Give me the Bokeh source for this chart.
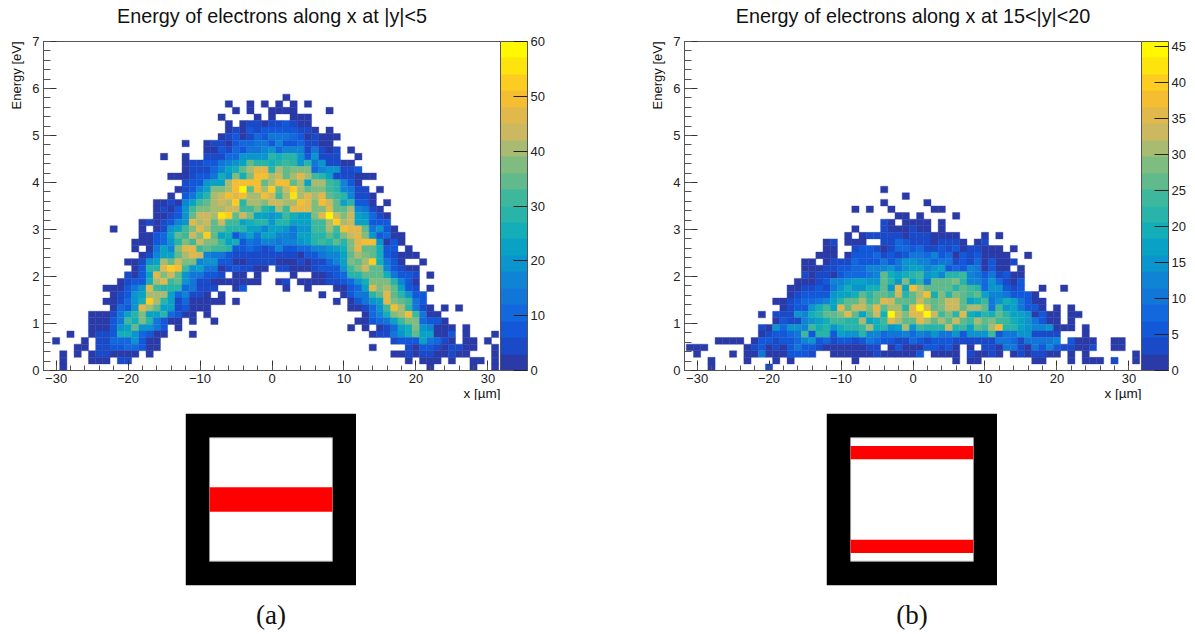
from bokeh.plotting import figure
from bokeh.layouts import column, row
from bokeh.models import (ColumnDataSource, LinearColorMapper, ColorBar, FixedTicker,
                          SingleIntervalTicker, Range1d, Title)
from bokeh.embed import file_html
from bokeh.resources import INLINE

# ---- chart data: bin contents as colour levels, one base-21 character per x bin.
# Rows run from the highest energy bin down to bin 0.
# LEFT strings end at x = 0 ; RIGHT strings start at x = 1 ; '.' is an empty bin.
left_a = [
"","1..1.1.","1.1..1","1....1.1","1.12212","1213233","12312435","1..1221344553","1132435567",
"1..1..222447777a","122335678caa9","12224689cegga","111233597d9dhhe","233788ehhhhce",
"12368ddehkchei","1.358aefhgheehf","112168bcefeiaeedf","12137bddeeffbbda9","11237cffejicfd887",
"1212367gefcfbb89aa7","1...1.1278bdgeccaaa8868","11348cbfdic89368588","111347adbfddb8935466",
"1.1586dggbcbba334323","12688cegf6553222222","11278ecfdd67733112222","13aagihb78551232211.",
"2138gdfc755332.11.1..","12339egbc75221111111..","111357gbaaa45222..13....","12378eee846221.1.......",
"112479iea82411111.1.....","1437gec8823111.........","111258ad88a4311.1.........",
"11135b9da5311.1..1........","111378c7753.1.............","1..12239974311...1...........",
"1...1.224447311................","11.223344311................","1.1.1221111.1.................",
"1...111.22....................","1.............................",
]
right_a = [
".1","1.1.1","111....1","..111","23211","333221.1","554312111","63342211","466625212.1",
"9aa737222..1","aba7a572211","ecddd4677223","fcegeba8222111","hhce8eeba631","cfiecddba6522.1",
"bejegegcba6221","feehgdhfc8a331.1","ebgggddgcce6521","8b988dgkfdf87421","aa888bbeief88333",
"87577bbebhggc5731","66588aacadfgd73411","56678abacadghh7131","6334466789dgcc933.1",
"2221335668cedc932111","1112122468dcei9531..1","2211123337bdfcc63211","..1..11234aaccc95332.1",
"12.1111223479ddda631",".1..1...11348gdec832.1","......1..1355acgca733","........1.13578gdcb53",
"..........11247bhea521.1.1","............1469dehb511","...........113458bdd4331",
"..........1.1.12489d76111.1",".............122579c88113.1...1","................233385421.11.1",
".............1....2133212211..1","................11212211211...1",
"..................1.111.1..11.1",".....................1.....1..1",
]
left_b = [
"1....","1.","1....","1.1..1...","11.","21.11","1...21112","1.12222212","12.111..22432",
"11..233212443","111.1333423235","11.1222433353577","1112233446667578","21221344456c989a",
"111236678877ca7d8","1122325797799c7g8h","1233337889caccbfac","112344568accebcgfccc",
"123379b8gcffdgceeag","1.222769accdgc8cf9kfdg","13226789bbaae89bgecc","2174776b9a79aabe9a78e7",
"123345b3aa3877a6645564","1111.13323346734233235433224","111.....1231213533211111122.1311",
"1....1.1151113332..111111211111","1....1...1.1........1........","1.......2....................",
]
right_b = [
"","",".1","..11","1....1","11.1","11.1","221111...1.1","2212221.12","422323122111.1",
"5463413231111..1","66455232413112","8678343651311.1","b786aab65352311","a5cccda66474213",
"eccccacba477323..1..1","eh9dadcbc86653331","fdcdffc89b57985311","kfcdffceec5b785331.1.1",
"gkfbdag98a9ca8871311.11","gececfcbecdbb9875311.1","baaafab8cbehaa87667111.1",
"6575573777b355772222...1","32333222222554255556.3111..11","133231.1.2215521536322112..11",
"3.1111.21121.1212211.1.1......1",".....1.11.......11...1.111.2..1","",
]
levels = 20
zmax_a, zmax_b = 60.0, 45.7
cbar_ticks_a = [0, 10, 20, 30, 40, 50, 60]
cbar_ticks_b = [0, 5, 10, 15, 20, 25, 30, 35, 40, 45]
palette = ["#2a3ba8", "#1a4ac8", "#1258d8", "#1268dc", "#1276d8", "#0f84d4", "#0c94cc", "#0aa2c4",
           "#14aeb8", "#28b4a8", "#3eb89c", "#60ba8c", "#7fbc80", "#a8bb70", "#ccb85e", "#e0b84c",
           "#f5be32", "#fdcc20", "#fde40c", "#fff800"]
x_limit = 31.75
e_max = 7
n_e_bins = 50
title_a = "Energy of electrons along x at |y|<5"
title_b = "Energy of electrons along x at 15<|y|<20"
x_label = "x [µm]"
y_label = "Energy [eV]"
mask_half, mask_outer = 25, 34.8
bands_a = [(-5, 5)]
bands_b = [(-21.6, -16.3), (16.3, 21.6)]

FONT = "Liberation Sans"
DIGITS = "0123456789abcdefghijk"


def cells(left, right, zmax):
    step = zmax / levels
    dE = e_max / n_e_bins
    d = dict(l=[], r=[], b=[], t=[], v=[])
    top_row = len(left) - 1

    def add(x, row_i, ch):
        if ch == ".":
            return
        d["l"].append(x - 0.5)
        d["r"].append(x + 0.5)
        d["b"].append(row_i * dE)
        d["t"].append((row_i + 1) * dE)
        d["v"].append((DIGITS.index(ch) - 0.5) * step)

    for i, (ls, rs) in enumerate(zip(left, right)):
        ri = top_row - i
        for j, ch in enumerate(ls):
            add(j - len(ls) + 1, ri, ch)
        for j, ch in enumerate(rs):
            add(j + 1, ri, ch)
    return ColumnDataSource(d)


def hist(title, left, right, zmax, ticks, right_border, margin):
    p = figure(frame_width=457, frame_height=329, x_range=Range1d(-x_limit, x_limit),
               y_range=Range1d(0, e_max), output_backend="svg", toolbar_location=None,
               min_border_left=35, min_border_right=right_border, min_border_top=33,
               min_border_bottom=30, margin=margin, background_fill_color="white")
    p.title.text = title
    p.title.align = "center"
    p.title.text_font = FONT
    p.title.text_font_size = "19.8px"
    p.title.text_font_style = "normal"
    p.title.text_color = "#111111"
    p.title.standoff = 29
    p.grid.visible = False
    p.outline_line_color = "#555555"
    p.outline_line_width = 1
    mapper = LinearColorMapper(palette=palette, low=0, high=zmax)
    spec = {"field": "v", "transform": mapper}
    p.quad(left="l", right="r", bottom="b", top="t", source=cells(left, right, zmax),
           fill_color=spec, line_color=spec, line_width=0.4)
    p.xaxis.ticker = SingleIntervalTicker(interval=10, num_minor_ticks=5)
    p.yaxis.ticker = SingleIntervalTicker(interval=1, num_minor_ticks=5)
    for ax, mj, mn in ((p.xaxis[0], 10, 5), (p.yaxis[0], 13, 7)):
        ax.major_label_text_font = FONT
        ax.major_label_text_font_size = "13px"
        ax.major_label_text_color = "#222222"
        ax.major_tick_in = mj
        ax.major_tick_out = 0
        ax.minor_tick_in = mn
        ax.minor_tick_out = 0
        ax.axis_line_color = "#555555"
        ax.major_tick_line_color = "#333333"
        ax.minor_tick_line_color = "#555555"
    p.xaxis[0].major_label_standoff = 3
    p.yaxis[0].major_label_standoff = 4
    p.add_layout(Title(text=x_label, align="right", text_font=FONT, text_font_size="13.5px",
                       text_font_style="normal", text_color="#111111", standoff=-3), "below")
    p.add_layout(Title(text=y_label, align="right", text_font=FONT, text_font_size="13px",
                       text_font_style="normal", text_color="#111111", standoff=12), "left")
    cb = ColorBar(color_mapper=mapper, ticker=FixedTicker(ticks=ticks), width=27, padding=0, margin=1,
                  major_tick_in=14, major_tick_out=0, minor_tick_in=0, minor_tick_out=0,
                  major_tick_line_color="#222222", major_label_text_font=FONT,
                  major_label_text_font_size="13px", major_label_text_color="#222222",
                  bar_line_color="#555555", label_standoff=3, scale_alpha=1.0)
    p.add_layout(cb, "right")
    return p


def mask(caption, bands, margin):
    p = figure(frame_width=171, frame_height=172, x_range=Range1d(-mask_outer, mask_outer),
               y_range=Range1d(-mask_outer, mask_outer), output_backend="svg", toolbar_location=None,
               x_axis_type=None, y_axis_type=None, min_border=0, min_border_bottom=44, margin=margin)
    p.grid.visible = False
    p.outline_line_color = None
    p.quad(left=[-mask_outer], right=[mask_outer], bottom=[-mask_outer], top=[mask_outer],
           fill_color="black", line_color=None)
    p.quad(left=[-mask_half], right=[mask_half], bottom=[-mask_half], top=[mask_half],
           fill_color="white", line_color="#999999", line_width=1)
    p.quad(left=[-mask_half] * len(bands), right=[mask_half] * len(bands),
           bottom=[b[0] for b in bands], top=[b[1] for b in bands], fill_color="#ff0000", line_color=None)
    t = Title(text=caption, align="center", text_font="Liberation Serif", text_font_size="27px",
              text_font_style="normal", text_color="#111111", standoff=25)
    p.add_layout(t, "below")
    return p


p1 = hist(title_a, left_a, right_a, zmax_a, cbar_ticks_a, 60, (-12, 0, 0, 0))
p2 = hist(title_b, left_b, right_b, zmax_b, cbar_ticks_b, 45, (-12, 0, 0, 81))
p3 = mask("(a)", bands_a, (13, 0, -8, 185))
p4 = mask("(b)", bands_b, (13, 0, -8, 470))
page = column(row(p1, p2), row(p3, p4))
open("out.html", "w").write(file_html(page, INLINE))
